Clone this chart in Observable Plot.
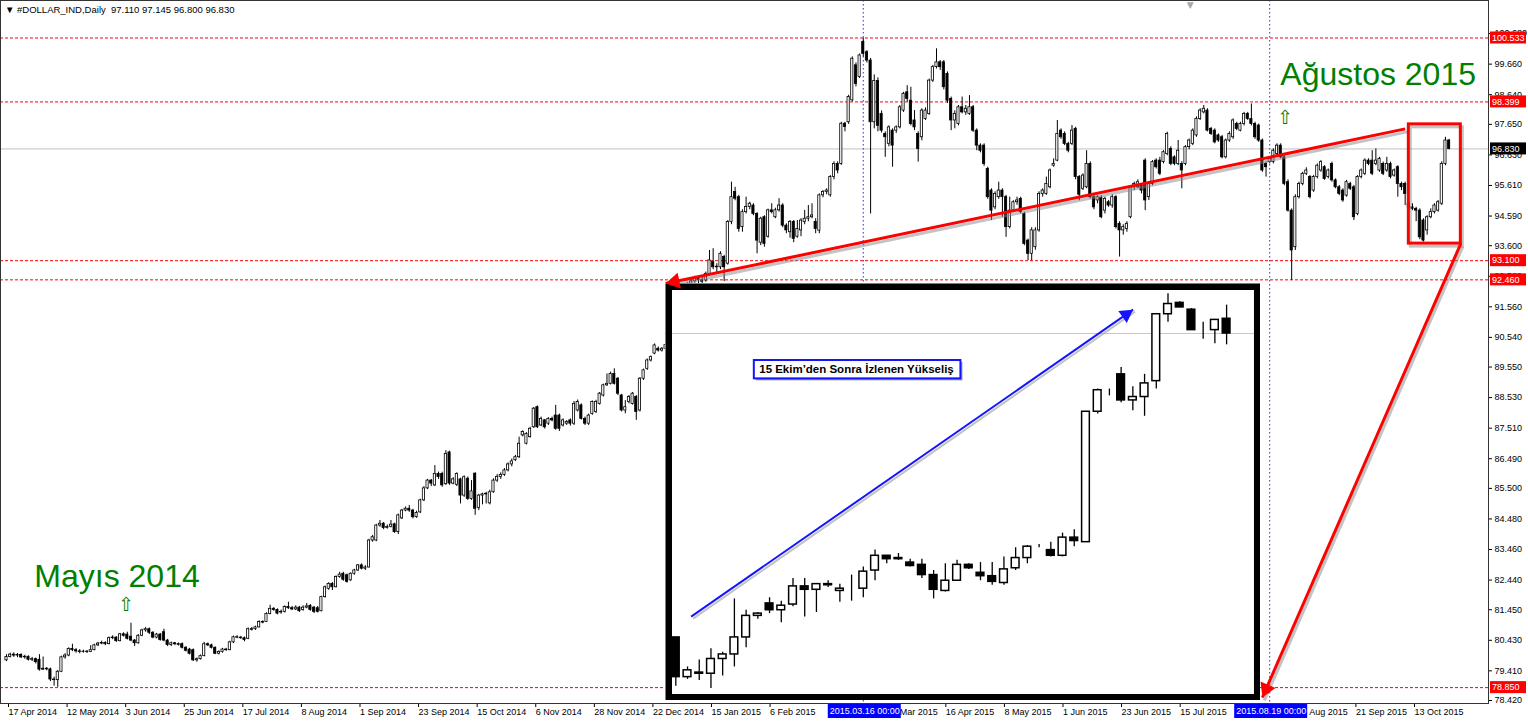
<!DOCTYPE html>
<html><head><meta charset="utf-8">
<script src="https://cdn.jsdelivr.net/npm/d3@7"></script>
<script src="https://cdn.jsdelivr.net/npm/@observablehq/plot@0.6"></script>
<style>
body{margin:0;background:#fff;}
#wrap{position:relative;width:1528px;height:722px;overflow:hidden;font-family:"Liberation Sans",Arial,sans-serif;}
#wrap svg{position:absolute;}
#hdr{position:absolute;left:5px;top:4px;font-size:9.5px;color:#000;white-space:pre;line-height:12px;z-index:10;}
</style></head><body><div id="wrap"><div id="hdr"></div></div>
<script>
// ---------- DATA: daily candles (bar index 0 = 17 Apr 2014) ----------
const open = [
79.76,79.87,79.95,79.92,79.94,79.86,79.88,79.78,79.80,79.78,
79.45,79.48,79.46,79.12,79.10,79.38,79.86,79.92,80.14,80.10,
80.06,80.04,80.05,80.04,80.10,80.26,80.32,80.34,80.30,80.50,
80.52,80.40,80.63,80.62,80.55,80.42,80.33,80.58,80.76,80.80,
80.68,80.52,80.62,80.70,80.42,80.27,80.33,80.30,80.30,80.18,
80.12,80.10,79.76,79.80,79.90,80.30,80.26,80.18,79.98,80.04,
80.12,80.10,80.36,80.53,80.52,80.50,80.48,80.80,80.80,80.86,
81.04,81.04,81.31,81.48,81.44,81.36,81.38,81.54,81.50,81.46,
81.52,81.44,81.52,81.58,81.52,81.50,81.40,81.87,82.15,82.31,
82.20,82.54,82.65,82.60,82.43,82.65,82.76,82.93,82.82,82.86,
83.76,83.76,84.26,84.32,84.18,84.21,84.30,84.04,84.50,84.76,
84.82,84.76,84.54,84.70,85.10,85.50,85.76,85.60,85.98,85.98,
85.64,86.70,85.66,85.62,85.80,85.26,85.82,85.15,85.99,84.85,
85.26,85.30,85.00,85.37,85.76,85.88,85.95,86.10,86.30,86.44,
86.54,87.27,86.99,87.21,87.54,88.21,87.60,87.77,87.66,87.82,
87.93,87.93,87.60,87.66,87.77,87.66,88.10,88.27,87.82,87.66,
87.98,88.05,88.32,88.60,88.94,88.99,89.32,89.16,88.60,88.10,
88.38,88.32,88.55,88.10,89.16,89.49,89.77,90.00,90.16,90.10,
90.16,90.28,90.56,91.10,91.40,91.84,91.94,92.30,92.41,92.52,
92.44,92.44,92.66,93.05,92.88,92.88,93.22,93.00,94.39,95.39,
95.22,94.22,94.72,94.89,94.94,94.66,93.70,94.55,93.90,94.78,
94.55,94.78,94.94,94.27,94.05,94.39,93.90,94.11,94.39,94.50,
94.55,94.39,94.10,95.28,95.39,95.28,95.89,96.33,96.33,97.67,
97.72,98.45,99.62,99.23,100.40,100.06,99.78,97.72,99.10,98.00,
97.33,97.00,97.44,97.44,97.55,98.11,98.72,98.44,97.78,97.33,
97.22,97.83,98.00,99.11,99.56,99.72,99.72,99.33,98.50,97.78,
97.66,98.22,98.05,98.00,98.22,97.44,96.94,96.94,96.16,95.44,
94.88,95.22,95.44,95.22,94.22,94.77,95.05,95.16,94.66,93.77,
93.33,93.55,94.11,95.33,95.33,95.55,96.27,96.44,97.44,97.33,
97.00,97.00,97.50,95.89,95.50,95.55,96.33,95.22,95.11,95.20,
94.77,95.05,94.94,95.22,94.33,94.11,94.16,94.55,95.55,95.55,
95.60,96.44,95.22,95.66,96.44,96.44,96.39,96.66,96.83,96.55,
96.33,96.33,96.33,96.89,97.00,97.28,97.83,98.05,98.11,97.50,
97.44,97.28,97.22,96.55,97.11,97.22,97.66,97.44,97.66,98.00,
97.83,97.66,97.61,97.11,96.33,96.39,96.39,96.66,96.94,96.55,
95.72,94.77,93.55,95.22,95.66,96.00,95.89,95.44,95.89,96.11,
96.22,95.89,96.33,95.78,95.55,95.44,95.27,95.66,95.55,94.66,
95.89,96.00,96.44,96.44,96.33,96.11,96.33,96.11,96.33,95.94,
96.22,95.66,95.66,95.00,94.88,94.83,94.77,94.44,94.11,94.55,
94.72,94.77,95.00,96.33,97.11];
const high = [
79.95,80.00,80.01,79.99,79.98,79.93,79.91,79.86,79.84,79.95,
79.87,79.52,79.50,79.20,79.42,79.90,79.98,80.18,80.30,80.15,
80.12,80.10,80.09,80.25,80.30,80.36,80.40,80.38,80.54,80.58,
80.55,80.66,80.68,80.70,81.00,80.46,80.62,80.80,80.86,80.84,
80.72,80.66,80.66,80.80,80.46,80.37,80.36,80.34,80.34,80.22,
80.16,80.14,79.84,79.94,80.36,80.34,80.30,80.21,80.08,80.16,
80.16,80.40,80.57,80.58,80.56,80.54,80.84,80.86,80.90,81.08,
81.08,81.35,81.60,81.52,81.48,81.44,81.58,81.70,81.56,81.58,
81.56,81.58,81.66,81.62,81.56,81.56,81.90,82.24,82.35,82.36,
82.58,82.70,82.70,82.64,82.68,82.80,82.96,82.98,82.92,83.80,
83.93,84.30,84.43,84.36,84.28,84.43,84.34,84.64,84.80,84.88,
84.93,84.80,84.74,85.14,85.56,85.80,85.80,86.26,86.04,86.04,
86.76,86.74,85.86,86.02,85.84,85.92,85.88,85.76,86.02,85.30,
85.34,85.37,85.44,85.82,85.96,86.02,86.16,86.35,86.48,86.60,
87.21,87.42,87.36,87.54,88.20,88.25,87.88,87.80,87.86,87.88,
88.27,87.98,87.82,87.76,87.82,88.40,88.45,88.32,87.88,87.98,
88.42,88.44,88.70,88.98,89.32,89.38,89.49,89.20,88.64,88.43,
88.60,88.70,88.60,89.20,89.48,89.82,89.92,90.32,90.22,90.20,
90.35,90.62,91.20,91.50,91.92,92.10,92.36,92.46,92.58,92.60,
92.55,92.72,93.44,93.50,93.00,93.40,93.28,94.44,95.72,95.55,
95.28,94.80,95.22,95.05,95.00,94.70,94.55,94.60,94.82,95.00,
94.85,95.17,95.00,94.33,94.44,94.44,94.44,94.50,94.78,94.94,
95.00,94.50,95.33,95.44,95.50,95.94,96.40,96.40,97.72,97.72,
98.62,99.90,99.70,100.00,100.53,100.11,99.85,99.30,99.20,98.10,
97.40,97.60,97.50,97.60,98.28,98.72,98.94,98.89,98.11,97.40,
98.17,98.20,99.16,99.62,100.17,99.78,99.78,99.40,98.56,98.10,
98.28,98.56,98.28,98.61,98.28,97.50,97.00,97.00,96.22,95.50,
95.40,95.72,95.50,95.28,95.22,95.10,95.22,95.22,94.72,93.82,
94.20,94.20,95.40,95.50,95.89,96.16,96.50,97.78,97.50,97.40,
97.05,97.61,97.55,95.94,96.00,96.77,96.40,95.30,95.27,95.27,
95.22,95.11,95.30,95.27,94.40,94.30,94.40,95.60,95.72,95.80,
95.66,96.50,95.72,96.44,96.50,96.55,96.77,97.39,96.90,96.60,
97.11,96.40,96.94,97.16,97.50,97.90,98.17,98.28,98.17,97.55,
97.50,97.33,97.28,97.16,97.40,97.83,97.72,97.72,98.05,98.05,
98.33,97.72,97.66,97.16,96.40,96.55,96.83,97.00,97.00,96.60,
95.80,94.83,95.30,95.72,96.05,96.20,95.94,95.94,96.33,96.44,
96.27,96.16,96.39,95.83,95.61,95.50,95.78,95.72,95.61,95.94,
96.16,96.50,96.50,96.77,96.83,96.55,96.39,96.55,96.39,96.16,
96.27,95.72,95.72,95.05,95.00,94.88,94.83,94.50,94.60,94.83,
95.00,95.11,96.40,97.22,97.15];
const low = [
79.72,79.84,79.86,79.85,79.82,79.80,79.74,79.72,79.64,79.40,
79.42,79.41,79.05,78.90,78.86,79.35,79.80,79.88,80.05,80.00,
79.98,80.00,79.99,80.02,80.08,80.22,80.28,80.25,80.28,80.45,
80.36,80.38,80.54,80.44,80.38,80.22,80.30,80.55,80.70,80.62,
80.48,80.48,80.40,80.38,80.22,80.22,80.25,80.24,80.14,80.04,
79.94,79.72,79.70,79.77,79.88,80.22,80.14,79.95,79.94,80.00,
80.06,80.08,80.32,80.48,80.46,80.38,80.45,80.74,80.76,80.84,
80.98,81.02,81.28,81.40,81.28,81.30,81.34,81.46,81.42,81.42,
81.36,81.40,81.48,81.40,81.32,81.34,81.38,81.84,82.10,82.09,
82.18,82.50,82.40,82.34,82.40,82.60,82.72,82.78,82.76,82.84,
83.70,83.72,84.20,84.12,84.14,84.18,84.00,83.96,84.46,84.72,
84.70,84.48,84.50,84.66,85.06,85.46,85.56,85.56,85.80,85.54,
85.60,85.60,85.62,85.56,84.98,85.20,85.10,85.10,84.60,84.76,
84.95,84.98,84.95,85.34,85.70,85.80,85.90,86.05,86.22,86.40,
86.50,87.22,86.95,87.18,87.50,87.50,87.56,87.48,87.60,87.72,
87.44,87.40,87.55,87.60,87.58,87.60,88.05,87.78,87.60,87.60,
87.94,88.00,88.28,88.55,88.90,88.95,88.95,88.60,88.05,87.99,
88.32,88.28,87.77,88.05,89.10,89.44,89.72,89.96,90.05,90.05,
90.08,90.20,90.50,91.00,91.30,91.70,91.85,92.24,92.35,92.30,
92.30,92.38,92.60,92.80,92.70,92.80,92.40,92.95,94.30,95.10,
94.05,94.05,94.66,94.80,94.60,93.33,93.60,93.55,93.85,94.66,
94.50,94.72,94.20,94.00,93.85,93.70,93.85,93.90,94.30,94.40,
94.50,94.00,94.00,95.20,95.30,95.22,95.80,96.00,96.28,97.40,
97.65,98.40,98.90,99.18,99.90,99.70,94.66,97.50,97.40,97.36,
96.55,96.90,96.22,97.35,97.50,98.05,98.40,97.60,97.44,96.39,
97.10,97.78,97.95,99.05,99.50,99.45,98.80,98.35,97.44,97.50,
97.60,98.00,97.95,97.95,97.38,96.77,96.70,96.25,95.15,94.44,
94.80,95.15,94.55,93.88,94.16,94.70,94.95,94.66,93.60,93.10,
93.10,93.45,94.05,95.22,95.28,95.50,96.22,96.40,97.15,96.94,
96.70,96.94,95.80,95.10,95.44,95.50,95.16,94.80,95.00,94.50,
94.66,94.88,94.85,94.16,93.22,93.95,94.05,94.50,95.44,95.50,
95.33,94.77,95.11,95.60,96.16,95.94,96.33,96.60,96.27,96.27,
96.27,95.50,96.27,96.80,96.94,97.22,97.78,98.00,97.40,97.28,
97.00,97.05,96.50,96.50,97.05,97.15,97.44,97.40,97.60,97.78,
97.60,97.15,97.05,96.05,95.89,96.33,96.33,96.60,96.50,95.60,
94.72,92.44,93.44,95.16,95.60,95.94,95.16,95.38,95.83,96.05,
95.78,95.83,95.72,95.50,95.27,95.05,95.22,95.44,94.44,94.60,
95.83,95.94,96.27,95.94,96.27,96.05,95.94,96.05,95.83,95.89,
95.22,95.44,94.94,94.80,94.77,94.40,93.80,93.72,93.95,94.50,
94.66,94.72,94.94,96.27,96.80];
const close = [
79.87,79.95,79.92,79.94,79.86,79.88,79.78,79.80,79.70,79.45,
79.48,79.46,79.12,79.10,79.38,79.86,79.92,80.14,80.10,80.06,
80.04,80.05,80.04,80.10,80.26,80.32,80.34,80.30,80.50,80.52,
80.40,80.63,80.58,80.48,80.42,80.33,80.58,80.76,80.80,80.68,
80.52,80.62,80.44,80.42,80.27,80.33,80.30,80.28,80.18,80.08,
79.98,79.76,79.80,79.90,80.30,80.26,80.18,79.98,80.04,80.12,
80.10,80.36,80.53,80.52,80.50,80.44,80.80,80.78,80.86,81.04,
81.02,81.31,81.48,81.44,81.32,81.38,81.54,81.50,81.46,81.52,
81.40,81.52,81.56,81.44,81.38,81.38,81.87,82.20,82.31,82.20,
82.54,82.62,82.45,82.38,82.65,82.76,82.93,82.82,82.86,83.76,
83.87,84.26,84.32,84.18,84.21,84.29,84.04,84.60,84.76,84.82,
84.76,84.54,84.68,85.10,85.50,85.76,85.66,85.98,85.88,85.60,
86.65,85.66,85.80,85.98,85.26,85.87,85.15,85.40,84.82,85.26,
85.30,85.32,85.37,85.76,85.88,85.95,86.10,86.30,86.40,86.54,
86.99,87.38,87.32,87.49,88.16,87.54,87.82,87.54,87.82,87.77,
87.49,87.49,87.77,87.72,87.66,88.32,88.38,87.82,87.66,87.93,
88.38,88.38,88.66,88.94,88.99,89.32,88.99,88.66,88.10,88.21,
88.55,88.66,88.05,89.16,89.44,89.77,89.88,90.27,90.10,90.16,
90.28,90.56,91.10,91.40,91.84,91.94,92.30,92.41,92.52,92.46,
92.40,92.66,93.11,92.88,92.90,93.33,92.88,94.39,95.22,95.17,
94.16,94.72,94.89,95.00,94.66,93.77,94.50,93.66,94.78,94.72,
94.78,94.94,94.27,94.11,94.39,93.83,94.16,94.44,94.50,94.55,
94.61,94.16,95.28,95.39,95.44,95.89,96.33,96.11,97.67,97.56,
98.56,99.84,99.00,99.95,100.00,99.78,97.72,99.10,97.60,97.44,
97.22,97.55,96.94,97.55,98.22,98.67,98.50,97.66,97.55,96.83,
98.11,98.11,99.11,99.56,99.72,99.56,98.89,98.44,97.78,98.00,
98.22,98.05,98.17,98.22,97.44,96.94,96.77,96.33,95.22,94.77,
95.33,95.44,95.22,94.22,94.77,95.05,95.11,94.72,93.66,93.33,
94.11,94.11,95.33,95.44,95.66,96.11,96.33,97.33,97.22,97.00,
96.77,97.44,95.89,95.30,95.94,96.33,95.22,94.88,95.22,94.55,
95.16,94.94,95.22,94.22,94.11,94.22,94.33,95.55,95.66,95.72,
95.44,95.11,95.66,96.39,96.22,96.00,96.72,97.33,96.33,96.33,
96.77,96.11,96.89,97.11,97.44,97.83,98.11,98.17,97.44,97.33,
97.05,97.11,96.55,97.11,97.33,97.78,97.50,97.66,98.00,97.83,
97.66,97.22,97.11,96.11,96.22,96.50,96.77,96.94,96.55,95.66,
94.77,93.44,95.22,95.66,96.00,96.11,95.22,95.89,96.27,96.39,
95.83,96.11,95.78,95.55,95.33,95.11,95.72,95.50,94.55,95.89,
96.11,96.44,96.33,96.00,96.44,96.50,96.00,96.33,95.89,96.11,
95.66,95.55,95.33,94.88,94.83,94.77,93.88,93.77,94.55,94.72,
94.94,95.05,96.33,97.11,96.83];

// axis ticks
const yTicks = [100.680,99.660,98.640,97.650,96.630,95.610,94.590,93.600,92.580,91.560,90.540,89.550,88.530,87.510,86.490,85.500,84.480,83.460,82.440,81.450,80.430,79.410,78.420];
const xTickBars = [0,16,32,48,64,80,96,112,128,144,160,176,192,208,224,240,256,272,288,304,320,336,352,368,384];
const xLabels = ["17 Apr 2014","12 May 2014","3 Jun 2014","25 Jun 2014","17 Jul 2014","8 Aug 2014","1 Sep 2014","23 Sep 2014","15 Oct 2014","6 Nov 2014","28 Nov 2014","22 Dec 2014","15 Jan 2015","6 Feb 2015","2 Mar 2015","24 Mar 2015","16 Apr 2015","8 May 2015","1 Jun 2015","23 Jun 2015","15 Jul 2015","6 Aug 2015","28 Aug 2015","21 Sep 2015","13 Oct 2015"];

// horizontal levels, marked bars
const redLevels = [100.533, 98.399, 93.100, 92.460, 78.850];
const lastPrice = 96.830;
const markedBars = [234, 345];
const markedLabels = ["2015.03.16 00:00", "2015.08.19 00:00"];
const shiftMark = [{x: 323.3, y: 101.63}];

// drawn objects (in bar / price units)
const trendLine = [{x1: 382, y1: 97.50, x2: 180, y2: 92.338}];
const boxArrow = [{x1: 397.2, y1: 93.67, x2: 343.0, y2: 78.52}];
const redBox = [{x1: 383.0, x2: 397.2, y1: 97.65, y2: 93.67}];
const annoText = [{x: 7.6, y: 82.55, t: "Mayıs 2014"}, {x: 347.9, y: 99.32, t: "Ağustos 2015"}];
const annoArrows = [{x: 32.6, y: 81.61}, {x: 349.2, y: 97.85}];
const insetBox = {x1: 180, x2: 342.5, y1: 92.338, y2: 78.42};

// inset: 48 candles after 15 October
const insetOpen = [94.15,93.80,93.83,93.83,93.96,94.00,94.15,94.34,94.45,94.39,94.44,94.60,94.57,94.61,94.56,94.59,94.58,94.74,94.87,94.85,94.81,94.79,94.70,94.56,94.65,94.79,94.72,94.69,94.63,94.76,94.85,94.95,94.92,94.87,95.03,94.99,96.14,96.31,96.47,96.24,96.27,96.41,97.00,97.10,97.04,96.86,96.86,96.96];
const insetHigh = [94.15,93.89,93.95,94.05,94.02,94.49,94.39,94.37,94.50,94.47,94.67,94.67,94.62,94.65,94.62,94.70,94.77,94.92,94.87,94.89,94.84,94.84,94.74,94.80,94.83,94.80,94.81,94.81,94.86,94.94,94.96,94.97,94.99,95.07,95.10,96.14,96.34,96.34,96.53,96.36,96.47,97.00,97.18,97.11,97.05,96.93,96.95,97.08];
const insetLow = [93.72,93.78,93.77,93.70,93.81,93.89,94.06,94.31,94.36,94.28,94.42,94.33,94.37,94.59,94.46,94.47,94.50,94.65,94.80,94.83,94.77,94.67,94.49,94.55,94.65,94.75,94.65,94.61,94.61,94.74,94.80,94.94,94.86,94.86,94.95,94.99,96.12,96.28,96.22,96.15,96.10,96.34,96.93,97.06,96.86,96.78,96.74,96.73];
const insetClose = [93.80,93.86,93.84,93.96,94.00,94.15,94.34,94.36,94.39,94.43,94.60,94.57,94.62,94.62,94.58,94.59,94.73,94.87,94.84,94.84,94.78,94.70,94.57,94.65,94.79,94.76,94.69,94.64,94.75,94.85,94.95,94.95,94.87,95.03,95.00,96.14,96.33,96.31,96.24,96.27,96.39,97.00,97.09,97.06,96.86,96.86,96.95,96.83];
const insetXDomain = [-0.879, 49.89];
const insetYDomain = [93.594, 97.271];
const insetArrow = [{x1: 1.31, y1: 94.334, x2: 39.02, y2: 97.04}];
const insetLabel = {x1: 6.70, x2: 24.33, y1: 96.43, y2: 96.592, tx: 7.12, ty: 96.51, t: "15 Ekim’den Sonra İzlenen Yükseliş"};

// ---------- RENDER ----------
const W = 1528, H = 722, MR = 40, MB = 19;
const xDomain = [-1.639, 404.76];
const yDomain = [78.32, 101.784];
const wrap = document.getElementById("wrap");
const FONT = "Liberation Sans, Arial, sans-serif";

const bars = close.map((c, i) => ({i, o: open[i], h: high[i], l: low[i], c}));
const sx = Plot.scale({x: {domain: xDomain, range: [0, W - MR]}});
const sy = Plot.scale({y: {domain: yDomain, range: [H - MB, 0]}});

function head(a, r, X, Y) {
  const px1 = X.apply(a.x1), py1 = Y.apply(a.y1), px2 = X.apply(a.x2), py2 = Y.apply(a.y2);
  const ang = Math.atan2(py2 - py1, px2 - px1);
  const back = 2 * Math.sqrt(Math.PI * r * r / (3 * Math.sqrt(3)));
  return {x: X.invert(px2 - back * Math.cos(ang)), y: Y.invert(py2 - back * Math.sin(ang)), rotate: ang * 180 / Math.PI + 90};
}

const main = Plot.plot({
  width: W, height: H,
  marginLeft: 0, marginRight: MR, marginTop: 0, marginBottom: MB,
  x: {domain: xDomain, axis: null},
  y: {domain: yDomain, axis: null},
  style: {background: "white", fontFamily: FONT, fontSize: "9px", color: "black", left: "0px", top: "0px"},
  marks: [
    Plot.ruleY([lastPrice], {stroke: "#c0c0c0"}),
    Plot.ruleY(redLevels, {stroke: "#ff0000", strokeDasharray: "3,2"}),
    Plot.ruleX(markedBars, {stroke: "#2a2aff", strokeDasharray: "1.5,2.5"}),
    Plot.ruleX(bars, {x: "i", y1: "l", y2: "h", stroke: "black", strokeWidth: 1}),
    Plot.rect(bars, {x1: d => d.i - 0.3, x2: d => d.i + 0.3, y1: "o", y2: "c",
      fill: d => d.c >= d.o ? "white" : "black", stroke: "black", strokeWidth: 0.8}),
    Plot.text(shiftMark, {x: "x", y: "y", text: () => "▼", fill: "#a8a8a8", fontSize: 9, fontFamily: "DejaVu Sans"}),
    // annotations
    Plot.text(annoText, {x: "x", y: "y", text: "t", textAnchor: "start", lineAnchor: "middle",
      fill: "#008000", fontSize: 32, fontFamily: FONT}),
    Plot.text(annoArrows, {x: "x", y: "y", text: () => "⇧", fill: "#008000", fontSize: 19, fontFamily: "DejaVu Sans"}),
    Plot.link(trendLine, {x1: "x1", y1: "y1", x2: "x2", y2: "y2", stroke: "#888", strokeOpacity: 0.5, strokeWidth: 3, dx: 2, dy: 3}),
    Plot.link(trendLine, {x1: "x1", y1: "y1", x2: "x2", y2: "y2", stroke: "#ff0000", strokeWidth: 3}),
    Plot.rect(redBox, {x1: "x1", x2: "x2", y1: "y1", y2: "y2", fill: "none", stroke: "#888", strokeOpacity: 0.5, strokeWidth: 3, dx: 2, dy: 3}),
    Plot.rect(redBox, {x1: "x1", x2: "x2", y1: "y1", y2: "y2", fill: "none", stroke: "#ff0000", strokeWidth: 3}),
    Plot.axisY({anchor: "right", ticks: yTicks, tickFormat: d3.format(".3f"), tickSize: 3, tickPadding: 3, fontSize: 9}),
    Plot.axisX({anchor: "bottom", ticks: xTickBars, tickFormat: d => xLabels[xTickBars.indexOf(d)],
      tickSize: 4, tickPadding: 1, textAnchor: "start", dx: 2, fontSize: 9}),
    Plot.frame({stroke: "#333"})
  ]
});
wrap.appendChild(main);

// price labels on the right axis and date labels on the bottom axis
const ms = d3.select(main);
const boxes = redLevels.map(v => ({v, fill: "#ff0000"})).concat([{v: lastPrice, fill: "#000"}]);
boxes.forEach(b => {
  const y = sy.apply(b.v);
  ms.append("rect").attr("x", W - MR + 2).attr("y", y - 6).attr("width", 36).attr("height", 12).attr("fill", b.fill);
  ms.append("text").attr("x", W - MR + 4).attr("y", y + 3.3).attr("fill", "white").attr("font-size", 9)
    .attr("text-anchor", "start").attr("font-family", FONT).text(d3.format(".3f")(b.v));
});
markedBars.forEach((b, k) => {
  const x = sx.apply(b);
  ms.append("rect").attr("x", x - 35).attr("y", H - MB + 1).attr("width", 73).attr("height", 14).attr("fill", "#0000ff");
  ms.append("text").attr("x", x - 33).attr("y", H - MB + 11).attr("fill", "white").attr("font-size", 9)
    .attr("text-anchor", "start").attr("font-family", FONT).text(markedLabels[k]);
});

// inset chart
const iL = sx.apply(insetBox.x1), iR = sx.apply(insetBox.x2), iT = sy.apply(insetBox.y1), iB = sy.apply(insetBox.y2);
const iW = iR - iL, iH = iB - iT;
const ibars = insetClose.map((c, j) => ({j, o: insetOpen[j], h: insetHigh[j], l: insetLow[j], c}));
const isx = Plot.scale({x: {domain: insetXDomain, range: [0, iW]}});
const isy = Plot.scale({y: {domain: insetYDomain, range: [iH, 0]}});
const ih = head(insetArrow[0], 5.5, isx, isy);
const inset = Plot.plot({
  width: iW, height: iH, margin: 0,
  x: {domain: insetXDomain, axis: null},
  y: {domain: insetYDomain, axis: null},
  style: {background: "white", left: iL + "px", top: iT + "px", fontFamily: FONT},
  marks: [
    Plot.ruleY([lastPrice], {stroke: "#c8c8c8"}),
    Plot.ruleX(ibars, {x: "j", y1: "l", y2: "h", stroke: "black", strokeWidth: 1.3}),
    Plot.rect(ibars, {x1: d => d.j - 0.33, x2: d => d.j + 0.33, y1: "o", y2: "c",
      fill: d => d.c >= d.o ? "white" : "black", stroke: "black", strokeWidth: 1.5}),
    Plot.link(insetArrow, {x1: "x1", y1: "y1", x2: "x2", y2: "y2", stroke: "#999", strokeOpacity: 0.6, strokeWidth: 2, dx: 2, dy: 2}),
    Plot.link(insetArrow, {x1: "x1", y1: "y1", x2: "x2", y2: "y2", stroke: "#1414ff", strokeWidth: 2}),
    Plot.dot([ih], {x: "x", y: "y", rotate: "rotate", symbol: "triangle", r: 5.5, fill: "#1414ff", stroke: "none"}),
    Plot.rect([insetLabel], {x1: "x1", x2: "x2", y1: "y1", y2: "y2", fill: "#9a9a9a", dx: 2, dy: 2}),
    Plot.rect([insetLabel], {x1: "x1", x2: "x2", y1: "y1", y2: "y2", fill: "white", stroke: "#1414ff", strokeWidth: 2}),
    Plot.text([insetLabel], {x: "tx", y: "ty", text: "t", textAnchor: "start", fontWeight: "bold", fontSize: 11.5, fill: "black", fontFamily: FONT}),
    Plot.frame({stroke: "black", strokeWidth: 6.5, inset: 3.25})
  ]
});
wrap.appendChild(inset);

// overlay for arrows drawn over everything
const h1 = head(trendLine[0], 6, sx, sy), h2 = head(boxArrow[0], 6, sx, sy);
const over = Plot.plot({
  width: W, height: H,
  marginLeft: 0, marginRight: MR, marginTop: 0, marginBottom: MB,
  x: {domain: xDomain, axis: null},
  y: {domain: yDomain, axis: null},
  style: {background: "none", left: "0px", top: "0px", pointerEvents: "none"},
  marks: [
    Plot.link(boxArrow, {x1: "x1", y1: "y1", x2: "x2", y2: "y2", stroke: "#888", strokeOpacity: 0.5, strokeWidth: 3, dx: 2, dy: 3}),
    Plot.link(boxArrow, {x1: "x1", y1: "y1", x2: "x2", y2: "y2", stroke: "#ff0000", strokeWidth: 3}),
    Plot.dot([h1, h2], {x: "x", y: "y", rotate: "rotate", symbol: "triangle", r: 6, fill: "#ff0000", stroke: "none"})
  ]
});
wrap.appendChild(over);

// header
const n = close.length;
const ok = [open, high, low].every(a => a.length === n) && n === 395;
document.getElementById("hdr").textContent = "▼ #DOLLAR_IND,Daily  97.110 97.145 96.800 96.830" + (ok ? "" : "  LEN " + [open.length, high.length, low.length, close.length].join("/"));
</script></body></html>
